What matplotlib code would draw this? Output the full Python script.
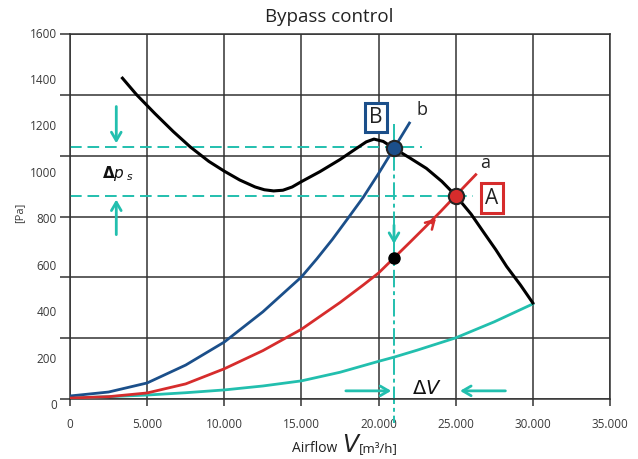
import numpy as np
import matplotlib.pyplot as plt
import matplotlib.transforms as mtransforms

plt.rcParams['font.family'] = ['Open Sans', 'DejaVu Sans']

# fan characteristic (black)
fan_x = [3400, 4300, 5500, 6700, 7800, 9000, 10000, 11000, 12000, 12600, 13200, 13800, 14400, 15000,
         16200, 17500, 18500, 19200, 19700, 20300, 21000, 22000, 23100, 24100, 25000,
         26000, 26800, 27600, 28300, 29200, 30000]
fan_y = [1410, 1340, 1258, 1180, 1114, 1052, 1010, 972, 942, 930, 925, 928, 942, 965,
         1008, 1060, 1105, 1136, 1148, 1138, 1108, 1068, 1022, 966, 905,
         825, 748, 672, 600, 520, 443]
# system curve b (blue)
b_x = [0, 2500, 5000, 7500, 10000, 12500, 15000, 16000, 17000, 18000, 19000, 20000, 21000, 22000]
b_y = [43, 60, 99, 176, 275, 405, 555, 633, 716, 806, 897, 1000, 1108, 1217]
# system curve a (red)
a_x = [0, 2500, 5000, 7500, 10000, 12500, 15000, 17500, 19000, 20000, 21000, 22000, 23000, 24000, 25000, 26300]
a_y = [34, 40, 56, 95, 160, 238, 330, 445, 520, 572, 637, 702, 768, 835, 905, 995]
# bypass curve (teal)
t_x = [0, 2500, 5000, 7500, 10000, 12500, 15000, 17500, 20000, 21000, 22500, 25000, 27500, 30000]
t_y = [34, 40, 47, 57, 69, 86, 108, 145, 192, 210, 240, 293, 362, 439]

pA = (25000, 905)
pB = (21000, 1110)
p_dot = (21000, 637)
ytick_vals = [0, 200, 400, 600, 800, 1000, 1200, 1400, 1600]
xtick_vals = [0, 5000, 10000, 15000, 20000, 25000, 30000, 35000]
xtick_labels = ['0', '5.000', '10.000', '15.000', '20.000', '25.000', '30.000', '35.000']

BLUE = '#1b4f8a'
RED = '#d62c2c'
TEAL = '#22bfae'
GRID = '#333333'
TXT = '#3a3a3a'

fig = plt.figure(figsize=(6.38, 4.59), dpi=100)
ax = fig.add_axes([70/638, 60/459, 540/638, 365/459])
ax.set_xlim(0, 35000)
ax.set_ylim(30, 1600)

# grid (the drawn grid does not line up with the pressure labels)
gy = np.linspace(30, 1600, 7)
ax.set_yticks(gy)
ax.set_yticklabels([])
ax.set_xticks(xtick_vals)
ax.set_xticklabels(xtick_labels, fontsize=8.5, color=TXT)
ax.grid(True, color=GRID, lw=1.1)
ax.tick_params(axis='y', length=7, width=1.1, color=GRID)
ax.tick_params(axis='x', length=5, width=1.1, color=GRID, pad=9)
for s in ax.spines.values():
    s.set_color(GRID)
    s.set_linewidth(1.1)
ax.set_axisbelow(True)

trans = mtransforms.blended_transform_factory(ax.transAxes, ax.transData)
for v in ytick_vals:
    ax.text(-0.024, v, str(v), transform=trans, ha='right', va='center',
            fontsize=8.5, color=TXT, clip_on=False)

# curves
ax.plot(t_x, t_y, color=TEAL, lw=2, zorder=3, solid_joinstyle='round')
ax.plot(b_x, b_y, color=BLUE, lw=2, zorder=3, solid_joinstyle='round')
ax.plot(a_x, a_y, color=RED, lw=2, zorder=3, solid_joinstyle='round')
ax.plot(fan_x, fan_y, color='black', lw=2.2, zorder=4, solid_joinstyle='round')

# dashed guide lines
ax.plot([0, 22800], [1114, 1114], color=TEAL, lw=1.4, ls=(0, (6, 3)), zorder=2)
ax.plot([0, 26100], [903, 903], color=TEAL, lw=1.4, ls=(0, (6, 3)), zorder=2)
ax.plot([21000, 21000], [1215, -75], color=TEAL, lw=1.4, ls=(0, (9, 2, 2, 2)),
        zorder=2, clip_on=False)

arr = dict(arrowstyle='->,head_length=0.6,head_width=0.35', color=TEAL, lw=2)
ax.annotate('', xy=(3000, 1118), xytext=(3000, 1300), arrowprops=arr)
ax.annotate('', xy=(3000, 900), xytext=(3000, 725), arrowprops=arr)
ax.annotate('', xy=(21000, 685), xytext=(21000, 790), arrowprops=arr)
ax.annotate('', xy=(21000, 65), xytext=(17700, 65), arrowprops=arr)
ax.annotate('', xy=(25100, 65), xytext=(28400, 65), arrowprops=arr)
ax.annotate('', xy=(23850, 815), xytext=(23300, 778),
            arrowprops=dict(arrowstyle='->,head_length=0.6,head_width=0.35', color=RED, lw=1.8))

ax.text(2100, 1000, r'$\mathbf{\Delta} p_{\ s}$', fontsize=11, ha='left', va='center', color='#111111')
ax.text(23150, 72, r'$\Delta V$', fontsize=14, ha='center', va='center', color='#111111')

# operating points
ax.plot(*pA, 'o', ms=11, mfc=RED, mec='#222222', mew=1.5, zorder=6)
ax.plot(*pB, 'o', ms=11, mfc=BLUE, mec='#222222', mew=1.5, zorder=6)
ax.plot(*p_dot, 'o', ms=8, mfc='black', mec='black', zorder=6)

ax.text(19830, 1240, 'B', fontsize=15, ha='center', va='center', color='#222222',
        bbox=dict(boxstyle='square,pad=0.2', fc='white', ec=BLUE, lw=2.2), zorder=7)
ax.text(27350, 894, 'A', fontsize=15, ha='center', va='center', color='#222222',
        bbox=dict(boxstyle='square,pad=0.2', fc='white', ec=RED, lw=2.2), zorder=7)
ax.text(22800, 1275, 'b', fontsize=13, ha='center', va='center', color='#222222')
ax.text(26900, 1045, 'a', fontsize=13, ha='center', va='center', color='#222222')

fig.text(329/638, 1 - 17/459, 'Bypass control', fontsize=13.5, ha='center', va='center', color='#222222')
fig.text(20/638, 1 - 213/459, '[Pa]', fontsize=8, rotation=90, ha='center', va='center', color=TXT)
base = 1 - 452/459
fig.text(292/638, base, 'Airflow', fontsize=10, ha='left', va='baseline', color='#222222')
fig.text(342/638, base, r'$V$', fontsize=17, ha='left', va='baseline', color='#222222')
fig.text(359/638, base, '[m³/h]', fontsize=9.5, ha='left', va='baseline', color='#222222')

fig.savefig('out.png', dpi=100)
